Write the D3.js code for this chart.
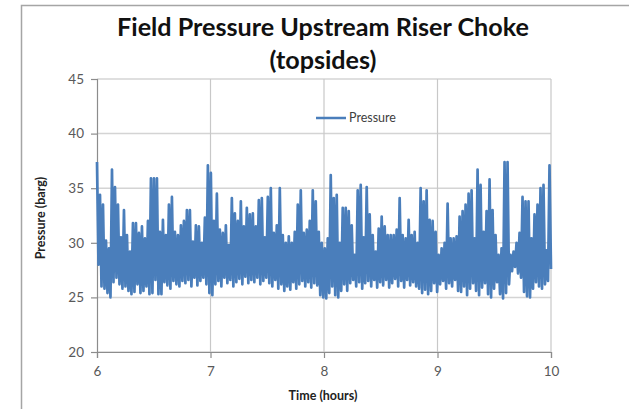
<!DOCTYPE html>
<html>
<head>
<meta charset="utf-8">
<script src="https://cdn.jsdelivr.net/npm/d3@7"></script>
<style>
  body { margin: 0; background: #fff; }
  text { font-family: Lato, "Open Sans", sans-serif; }
</style>
</head>
<body>
<svg id="chart" width="629" height="409"></svg>
<script>
// chart text
var titleLines = ["Field Pressure Upstream Riser Choke", "(topsides)"];
var xTitle = "Time (hours)";
var yTitle = "Pressure (barg)";
var seriesName = "Pressure";

// axis ticks
var xTicks = [6, 7, 8, 9, 10];
var yTicks = [20, 25, 30, 35, 40, 45];

// time span of the record (hours)
var timeStart = 6, timeEnd = 10;

// upper swings of the pressure signal, read left to right (barg)
var peaks = [
  37.4, 34.4, 33.5, 30.2, 29.5, 36.7, 35.1, 33.5, 30.5, 33.0,
  30.7, 29.2, 31.8, 31.8, 30.9, 31.5, 30.4, 32.0, 35.9, 35.9,
  35.9, 31.0, 32.1, 30.7, 33.5, 34.2, 31.0, 30.7, 31.6, 32.0,
  33.0, 33.0, 30.1, 31.6, 31.5, 30.0, 32.3, 37.1, 36.4, 32.0,
  34.5, 31.2, 30.9, 31.6, 29.8, 34.1, 32.7, 32.0, 33.8, 31.5,
  33.2, 32.6, 32.7, 31.5, 33.9, 34.1, 30.5, 34.2, 35.0, 30.9,
  31.6, 35.0, 30.7, 30.0, 30.6, 30.0, 31.0, 33.5, 34.8, 30.9,
  31.2, 32.0, 34.8, 33.8, 31.0, 30.0, 29.5, 30.4, 36.2, 34.1,
  34.4, 30.0, 33.2, 33.2, 32.9, 31.6, 28.9, 34.8, 35.3, 30.5,
  35.1, 32.6, 30.7, 29.2, 31.3, 32.4, 31.5, 30.7, 30.7, 30.7,
  31.2, 34.1, 30.7, 30.4, 32.1, 30.7, 31.0, 30.0, 35.0, 33.8,
  34.8, 32.1, 32.0, 31.0, 28.9, 29.5, 30.0, 33.6, 30.4, 30.4,
  30.6, 32.4, 32.9, 33.5, 34.5, 34.8, 30.4, 36.7, 35.3, 31.0,
  32.9, 35.8, 33.0, 30.7, 28.9, 29.5, 37.4, 37.4, 28.9, 29.2,
  30.0, 30.9, 34.2, 33.8, 33.8, 30.4, 32.6, 33.5, 35.0, 35.3,
  29.3, 37.1
];

// lower swings between the peaks (barg)
var troughs = [
  28.0, 26.0, 25.8, 25.4, 25.0, 26.4, 26.8, 26.2, 25.8, 26.0,
  25.6, 25.3, 25.5, 26.2, 25.4, 25.6, 26.0, 25.3, 25.4, 26.6,
  25.3, 25.3, 26.4, 26.1, 25.8, 26.5, 26.2, 26.0, 26.5, 26.3,
  26.6, 26.0, 26.8, 26.1, 26.5, 26.8, 26.2, 25.4, 25.2, 26.2,
  26.5, 26.0, 26.8, 26.3, 26.6, 26.0, 26.4, 26.7, 26.2, 26.9,
  26.3, 26.6, 26.4, 26.8, 26.2, 26.5, 26.8, 26.3, 26.0, 26.6,
  25.8, 26.2, 25.6, 26.0, 25.7, 26.4, 25.8, 26.2, 26.5, 26.0,
  26.4, 25.9, 26.3, 26.1, 25.2, 25.0, 24.9, 25.4, 26.0, 25.2,
  25.0, 25.6, 26.2, 25.6, 26.3, 26.6, 26.0, 26.4, 25.8, 26.3,
  26.5, 26.0, 26.6, 25.9, 26.4, 26.1, 26.6, 25.9, 26.3, 26.7,
  26.0, 26.5, 25.9, 26.6, 26.1, 26.4, 26.0, 25.8, 25.4, 25.7,
  25.3, 25.6, 26.3, 25.5, 26.2, 26.5, 25.8, 26.3, 26.0, 26.6,
  25.6, 25.5, 26.0, 25.2, 25.8, 26.3, 25.6, 25.2, 25.9, 26.3,
  25.3, 25.0, 25.8, 26.4, 25.3, 24.9, 25.4, 26.2, 27.4, 27.8,
  27.2, 26.8, 25.5, 25.1, 25.0, 25.8, 26.4, 26.0, 25.8, 26.2,
  26.5, 27.6
];

var W = 629, H = 409;
var margin = {top: 79, right: 78, bottom: 57, left: 97};
var plotW = W - margin.left - margin.right,
    plotH = H - margin.top - margin.bottom;

var svg = d3.select("#chart");

// outer chart frame (runs off the right and bottom of the picture)
svg.append("rect")
    .attr("x", 21.5).attr("y", 5.5)
    .attr("width", 700).attr("height", 500)
    .attr("fill", "#fff")
    .attr("stroke", "#a5a5a5")
    .attr("stroke-width", 1.5);

var g = svg.append("g").attr("transform", "translate(" + margin.left + "," + margin.top + ")");

var x = d3.scaleLinear().domain([timeStart, timeEnd]).range([0, plotW]);
var y = d3.scaleLinear().domain([20, 45]).range([plotH, 0]);

// gridlines
g.append("g")
    .selectAll("line.h")
    .data(yTicks)
    .enter().append("line")
    .attr("x1", 0).attr("x2", plotW)
    .attr("y1", function(d) { return y(d); })
    .attr("y2", function(d) { return y(d); })
    .attr("stroke", "#d4d4d4")
    .attr("stroke-width", 1.5);

g.append("g")
    .selectAll("line.v")
    .data(xTicks.slice(1))
    .enter().append("line")
    .attr("y1", 0).attr("y2", plotH)
    .attr("x1", function(d) { return x(d); })
    .attr("x2", function(d) { return x(d); })
    .attr("stroke", "#c8c8c8")
    .attr("stroke-width", 1.2);

// axes
var xAxis = g.append("g")
    .attr("transform", "translate(0," + plotH + ")")
    .call(d3.axisBottom(x).tickValues(xTicks).tickSize(6).tickPadding(8).tickFormat(d3.format("d")));

var yAxis = g.append("g")
    .call(d3.axisLeft(y).tickValues(yTicks).tickSize(6).tickPadding(7).tickFormat(d3.format("d")));

[xAxis, yAxis].forEach(function(a) {
  a.select(".domain").attr("stroke", "#8c8c8c").attr("stroke-width", 1.2);
  a.selectAll(".tick line").attr("stroke", "#8c8c8c").attr("stroke-width", 1.2);
  a.selectAll(".tick text")
    .attr("fill", "#595959")
    .style("font-family", "Lato, sans-serif")
    .style("font-size", "13.5px");
});

// the pressure trace: peaks and troughs alternate along the time axis
var values = [];
peaks.forEach(function(p, i) {
  values.push(p);
  values.push(troughs[i]);
});
var step = (timeEnd - timeStart) / (values.length - 1);

var line = d3.line()
    .x(function(d, i) { return x(timeStart + i * step); })
    .y(function(d) { return y(d); });

g.append("path")
    .datum(values)
    .attr("fill", "none")
    .attr("stroke", "#4a7ebb")
    .attr("stroke-width", 2.7)
    .attr("stroke-linejoin", "round")
    .attr("d", line);

// legend
var leg = svg.append("g").attr("transform", "translate(316,118)");
leg.append("line")
    .attr("x1", 0).attr("x2", 30)
    .attr("stroke", "#4a7ebb")
    .attr("stroke-width", 2.5);
leg.append("text")
    .attr("x", 33).attr("y", 4)
    .attr("fill", "#404040")
    .style("font-size", "12.5px")
    .text(seriesName);

// title, fitted to the reference width
var title = svg.append("text")
    .attr("text-anchor", "middle")
    .attr("font-weight", "bold")
    .attr("fill", "#111")
    .style("font-size", "21px");
title.append("tspan").attr("x", 323).attr("y", 36).text(titleLines[0]);
title.append("tspan").attr("x", 323).attr("y", 69).text(titleLines[1]);
var tw = title.select("tspan").node().getComputedTextLength();
title.style("font-size", (21 * 412 / tw).toFixed(2) + "px");

// axis titles
svg.append("text")
    .attr("x", 323).attr("y", 400)
    .attr("text-anchor", "middle")
    .attr("font-weight", "bold")
    .attr("fill", "#222")
    .style("font-size", "12.5px")
    .text(xTitle);

svg.append("text")
    .attr("transform", "translate(45,218) rotate(-90)")
    .attr("text-anchor", "middle")
    .attr("font-weight", "bold")
    .attr("fill", "#222")
    .style("font-size", "12.5px")
    .text(yTitle);
</script>
</body>
</html>
